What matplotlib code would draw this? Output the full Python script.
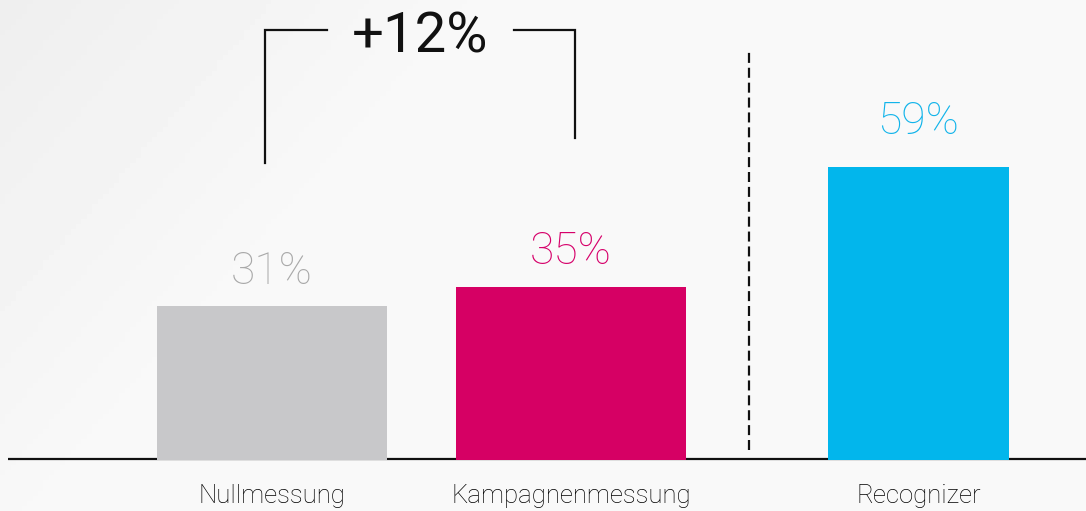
import numpy as np
import matplotlib.pyplot as plt

# Daten
kategorien = ['Nullmessung', 'Kampagnenmessung', 'Recognizer']
werte = [31, 35, 59]
wert_labels = ['31%', '35%', '59%']
differenz_label = '+12%'

# Layout (Pixel-Einheiten auf der x-Achse)
x_pos = [272, 571, 918.5]
breiten = [230, 230, 181]
balken_farben = ['#c8c8ca', '#d60064', '#02b6ec']
label_farben = ['#a9a9a9', '#d6006a', '#12b4ea']
label_abstand = [4.2, 4.3, 6.4]   # in %-Punkten über dem Balken

px_pro_prozent = 4.97
W, H = 1086, 511
null_y = 459  # Pixel von oben

plt.rcParams['font.family'] = ['Roboto', 'DejaVu Sans']

fig = plt.figure(figsize=(W / 100, H / 100), dpi=100)
fig.patch.set_facecolor('#f8f8f8')

# leichter Hintergrundverlauf (oben links etwas dunkler)
bg = fig.add_axes([0, 0, 1, 1], zorder=-1)
gx, gy = np.meshgrid(np.linspace(0, 1, 200), np.linspace(0, 1, 100))
verlauf = 0.935 + 0.04 * np.clip(gx * 2.2 + gy * 0.9, 0, 1)
bg.imshow(verlauf, cmap='gray', vmin=0, vmax=1, aspect='auto', extent=[0, 1, 0, 1])
bg.axis('off')

ax = fig.add_axes([0, 0, 1, 1])
ax.set_facecolor('none')
ax.set_xlim(0, W)
ax.set_ylim(-(H - null_y) / px_pro_prozent, null_y / px_pro_prozent)
ax.axis('off')

# Grundlinie
ax.plot([8, W], [0, 0], color='#111111', lw=1.6, zorder=1, solid_capstyle='butt')

# Balken
ax.bar(x_pos, werte, width=breiten, color=balken_farben, bottom=-0.3, zorder=2)

# Wertbeschriftungen
for x, v, t, c, d in zip(x_pos, werte, wert_labels, label_farben, label_abstand):
    ax.text(x, v + d, t, ha='center', va='baseline', fontsize=32,
            color=c, fontweight='light')

# Kategorien
for x, k in zip(x_pos, kategorien):
    ax.text(x, -44 / px_pro_prozent, k, ha='center', va='baseline',
            fontsize=18.5, color='#000000', fontweight='light')

# Trennlinie
ax.plot([749, 749], [(null_y - 450) / px_pro_prozent, (null_y - 48) / px_pro_prozent],
        color='#111111', lw=1.6, linestyle=(0, (4.5, 2.2)), zorder=1)

# Klammer
def py(p):
    return (null_y - p) / px_pro_prozent

ax.plot([265, 265, 327], [py(163), py(30), py(30)], color='#111111', lw=1.6,
        solid_joinstyle='miter')
ax.plot([514, 575, 575], [py(30), py(30), py(138)], color='#111111', lw=1.6,
        solid_joinstyle='miter')
ax.text(420, py(52), differenz_label, ha='center', va='baseline', fontsize=40.5,
        color='#111111')

fig.savefig('out.png', dpi=100)
